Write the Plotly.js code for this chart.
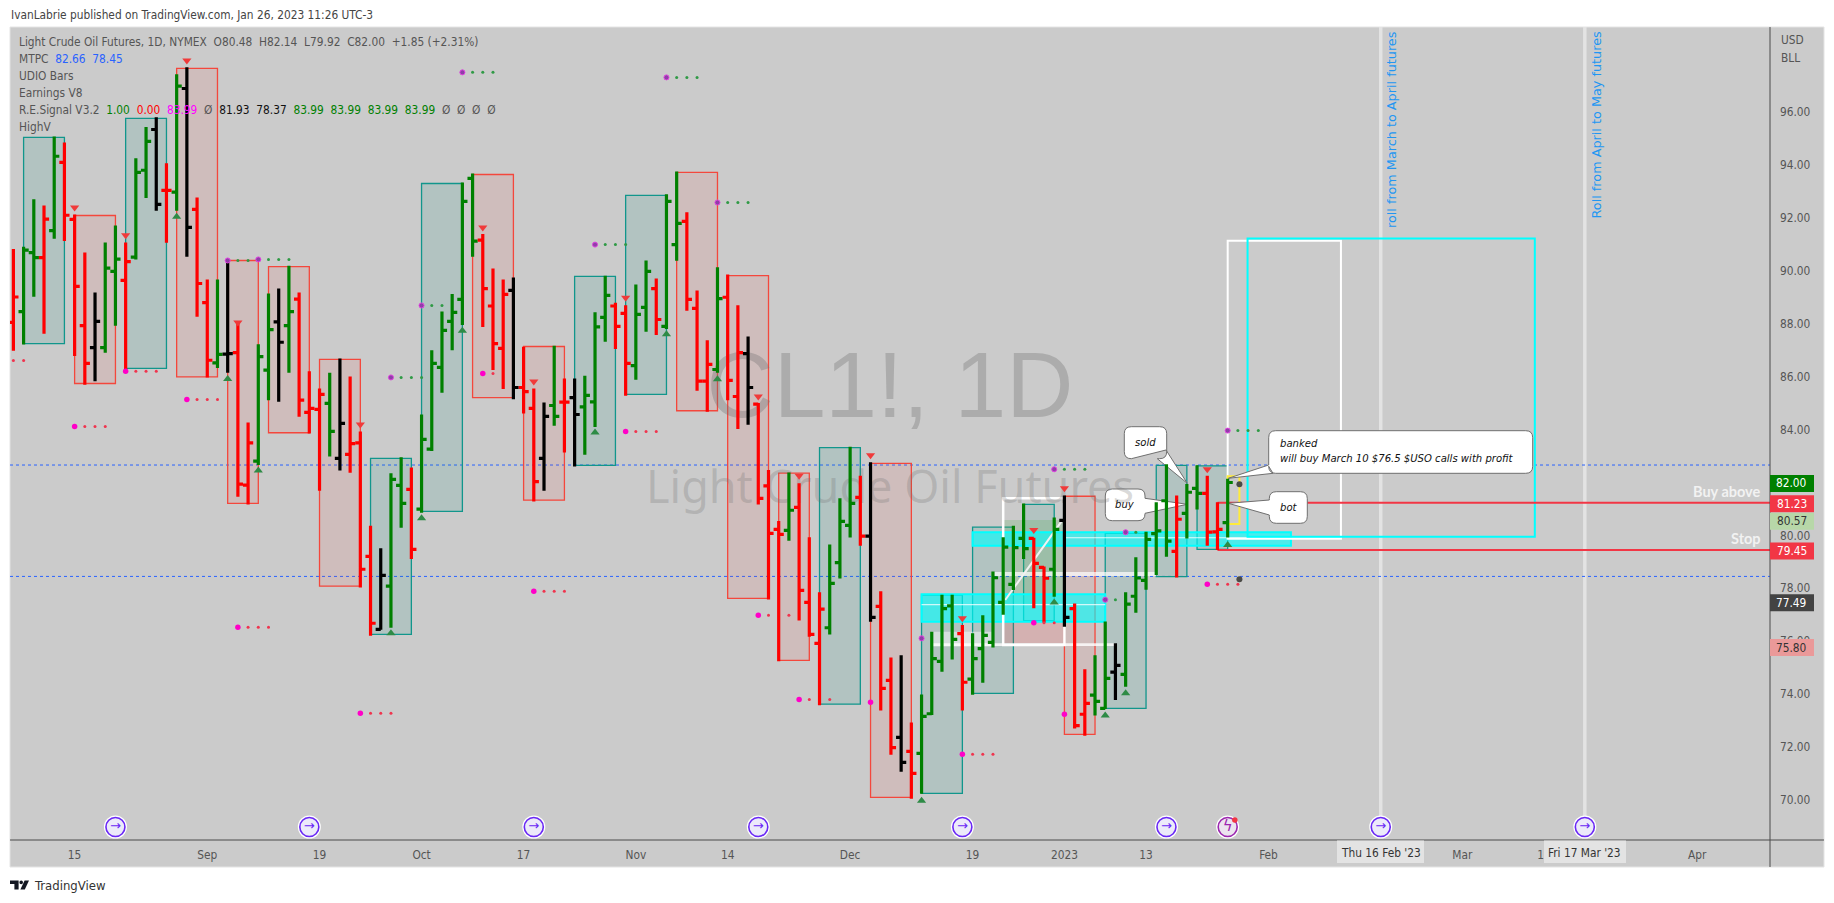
<!DOCTYPE html>
<html><head><meta charset="utf-8">
<script src="https://cdn.plot.ly/plotly-3.0.1.min.js"></script>
<style>html,body{margin:0;padding:0;background:#fff;overflow:hidden}#c{width:1834px;height:903px}</style>
</head><body><div id="c"></div>
<script>
// ---- bars (index 0 = 5 Aug 2022, trading days) ----
const barOpen=[88.05,88.46,90.69,90.50,91.52,94.10,91.94,87.93,87.10,87.10,89.98,89.64,90.52,93.80,95.34,93.04,92.97,96.89,92.32,88.80,86.52,86.85,86.91,81.90,82.81,86.25,88.07,87.93,88.93,84.65,84.76,84.99,82.91,83.06,83.50,79.21,76.45,78.08,81.89,81.74,80.99,83.26,86.35,88.09,88.92,93.49,91.16,88.67,87.07,89.26,85.59,84.80,82.91,84.91,85.04,85.21,84.86,85.05,88.24,88.67,88.39,86.42,88.62,89.33,87.90,90.99,91.87,88.58,85.83,86.27,89.00,85.25,86.87,84.96,81.87,80.23,80.19,81.06,77.47,75.92,76.51,78.97,80.38,81.44,79.97,77.32,74.52,72.37,71.84,71.76,73.26,75.24,77.34,76.29,74.57,75.72,75.96,77.47,78.15,79.89,79.89,78.79,78.72,80.57,77.23,73.24,73.96,73.46,74.83,74.75,77.70,78.30,80.07,81.31,79.40,80.83,81.78,81.59,80.13,80.48];
const barHigh=[90.82,90.91,92.70,92.47,95.08,94.85,92.13,90.69,89.18,91.07,91.71,91.07,94.25,95.43,95.80,94.06,97.43,97.69,92.77,89.67,89.67,90.43,88.05,84.27,87.22,89.14,89.33,90.19,89.18,86.20,85.55,86.15,86.69,86.01,83.93,80.36,79.51,82.35,82.95,82.57,84.57,87.00,88.46,89.12,93.34,93.68,91.39,90.09,89.67,89.75,87.13,85.55,85.02,87.17,85.93,85.93,86.03,88.43,89.81,88.79,88.70,89.48,90.39,89.71,92.89,93.75,92.21,89.26,87.38,90.13,89.86,88.70,87.52,85.00,82.47,80.54,82.38,81.97,79.93,77.85,79.66,81.40,83.35,82.25,82.76,77.89,75.39,75.47,72.93,73.99,76.36,77.76,77.76,76.61,76.30,76.98,78.64,79.93,80.36,81.21,79.91,78.82,80.68,81.51,77.43,74.94,75.47,76.75,75.92,77.85,79.17,80.14,81.25,82.69,81.51,81.94,82.65,82.25,81.25,82.14];
const barLow=[86.98,87.21,89.02,87.62,91.21,91.13,86.78,85.69,85.83,86.90,87.92,86.25,90.43,92.75,92.27,91.06,92.27,90.53,88.26,85.97,86.33,86.15,81.46,81.17,82.66,85.11,85.05,86.15,84.48,83.85,81.69,82.98,82.45,82.37,78.03,76.21,76.43,76.51,80.29,79.11,80.86,83.19,85.39,87.00,87.95,90.53,87.88,86.25,85.53,85.15,84.61,81.28,81.69,84.14,83.13,82.60,83.05,84.10,87.32,87.04,85.28,85.88,87.70,87.57,87.80,90.38,88.49,85.47,84.67,86.15,85.11,84.02,84.18,81.17,77.58,75.24,79.80,76.78,76.17,73.58,76.25,78.37,79.92,79.61,76.74,73.38,71.71,71.07,70.05,70.24,73.21,74.85,75.31,73.38,73.98,74.43,75.76,77.00,77.94,79.11,77.25,76.71,77.68,76.55,72.70,72.43,73.19,73.44,73.78,74.28,77.08,77.95,78.50,79.19,78.41,79.88,80.98,79.61,79.45,79.92];
const barClose=[89.01,90.78,90.50,91.95,94.33,92.10,89.41,86.50,88.09,90.10,90.44,90.35,93.72,94.89,92.51,93.04,96.98,91.64,89.52,86.62,86.84,86.87,81.94,83.50,86.76,87.78,87.30,88.46,85.11,84.80,85.33,83.93,84.23,83.47,78.72,76.68,78.49,82.12,81.21,79.47,83.63,86.50,87.75,88.43,92.62,91.12,89.33,87.25,89.11,85.59,85.43,82.03,84.50,84.50,85.04,84.57,85.29,87.88,89.07,87.90,86.50,88.35,89.98,88.16,92.62,91.79,88.92,85.83,86.46,88.95,85.86,86.91,85.59,81.40,80.08,80.04,80.95,77.92,76.26,77.21,78.19,80.53,81.21,79.97,76.90,74.22,71.98,71.42,71.01,73.16,75.34,77.23,76.07,74.45,75.34,76.22,78.40,79.56,79.54,79.50,78.94,78.38,80.23,76.90,72.81,73.65,73.73,74.60,75.09,77.40,78.39,79.85,80.17,79.78,80.61,81.63,81.59,80.12,80.23,82.00];
const barColor="RGGRGRRRKGGRGGKRGKRRGKRRGGKGRRRGKRRRKGGRGGGGGGRRRKRRKGRKGGGRRGGRGGRRRGRRKRRRGRRRGGGRKRRKRGGGGRGGGGGGRRGKRRGGKGGGGGRGGRRG";
// ---- x axis ----
const tickIdx=[6,19,30,40,50,61,70,82,94,103,111,123,142,150,165];
const tickText=["15","Sep","19","Oct","17","Nov","14","Dec","19","2023","13","Feb","Mar","13","Apr"];
const yTicks=[70,72,74,76,78,80,82,84,86,88,90,92,94,96];
// ---- signal boxes ----
const boxFrom=[1,6,11,16,21,25,30,35,40,45,50,55,60,65,70,75,79,84,89,94,99,103,107,112,116];
const boxTo=[5,10,15,20,24,29,34,39,44,49,54,59,64,69,74,78,83,88,93,98,102,106,111,115,119];
const boxTop=[95.04,92.09,95.76,97.65,90.39,90.16,86.65,82.91,93.30,93.64,87.14,89.79,92.85,93.72,89.82,82.35,83.32,82.72,77.74,80.31,81.17,81.48,80.08,82.65,82.63];
const boxBottom=[87.25,85.74,86.31,85.99,81.21,83.88,78.08,76.26,80.91,85.21,81.33,82.65,85.33,84.71,77.62,75.28,73.62,70.10,70.25,74.03,76.78,72.48,73.46,78.44,79.47];
const boxKind="TRTRRRRTTRRTTRRRTRTTTRTTT";
// ---- signal dots ----
const pinkHeadIdx=[6,11,17,22,34,51,46,60,73,77,84,93,100,103,117];
const pinkHeadPrice=[84.12,86.20,85.14,76.53,73.28,77.89,86.12,83.93,76.98,73.80,73.69,71.73,76.70,73.24,78.15];
const pinkTailIdx=[0,1,7,8,9,12,13,14,18,19,20,23,24,25,35,36,37,52,53,54,47,61,62,63,74,76,78,80,94,95,96,101,102,118,119,120];
const pinkTailPrice=[86.61,86.61,84.12,84.12,84.12,86.20,86.20,86.20,85.14,85.14,85.14,76.53,76.53,76.53,73.28,73.28,73.28,77.89,77.89,77.89,86.12,83.93,83.93,83.93,76.98,76.98,73.80,73.80,71.73,71.73,71.73,76.70,76.70,78.15,78.15,78.15];
const purpleHeadIdx=[44,21,24,40,37,57,64,69,89,102,109,107,119];
const purpleHeadPrice=[97.50,90.39,90.43,88.69,85.97,90.99,97.31,92.58,76.11,82.50,80.12,77.57,83.96];
const greenTailIdx=[45,46,47,22,23,25,26,27,41,42,38,39,40,58,59,60,65,66,67,70,71,72,103,104,105,110,108,120,121,122];
const greenTailPrice=[97.50,97.50,97.50,90.39,90.39,90.43,90.43,90.43,88.69,88.69,85.97,85.97,85.97,90.99,90.99,90.99,97.31,97.31,97.31,92.58,92.58,92.58,82.50,82.50,82.50,80.12,77.57,83.96,83.96,83.96];
const downIdx=[6,11,17,22,34,46,51,60,73,77,84,93,100,103,117];
const downPrice=[92.39,91.34,97.95,88.05,84.19,91.64,85.82,88.98,85.25,82.25,83.03,76.87,80.20,81.78,82.50];
const upIdx=[16,21,24,37,40,44,57,64,69,89,102,107,109,119];
const upPrice=[92.04,85.91,82.45,76.30,80.65,87.73,83.89,87.60,85.90,69.97,77.46,73.19,74.03,79.64];
const darkIdx=[120.15,120.15];
const darkPrice=[81.93,78.34];
const rollIconIdx=[10,29,51,73,93,113,134,154];
// ---- price tags ----
const tagPrice=[82.00,81.23,80.57,79.45,77.49,75.80];
const tagText=["82.00","81.23","80.57","79.45","77.49","75.80"];
const tagFill=["#008000","#f23645","#b7d7a8","#f23645","#434343","#ea9999"];
const tagInk=["#fff","#fff","#333","#fff","#fff","#333"];

const SCALE_X=10.204, X0=13.4, SCALE_Y=26.46;
const X=p=>(p-X0)/SCALE_X, Y=p=>70+(800-p)/SCALE_Y;
const PX=p=>(p-10)/1760, PY=p=>(840-p)/813;
const xr=[X(10),X(1770)], yr=[Y(840),Y(27)];
const UI='"DejaVu Sans Condensed",Lato,sans-serif', GREY='#555', FS=11.8;

const idx=barOpen.map((_,i)=>i);
function ohlc(letter,col){
  const k=idx.filter(i=>barColor[i]===letter);
  return {type:'ohlc',xaxis:'x2',yaxis:'y2',x:k,open:k.map(i=>barOpen[i]),high:k.map(i=>barHigh[i]),low:k.map(i=>barLow[i]),close:k.map(i=>barClose[i]),
    increasing:{line:{color:col,width:3.2}},decreasing:{line:{color:col,width:3.2}},tickwidth:0.5,hoverinfo:'skip',showlegend:false};
}
function pts(x,y,sym,size,col,line){
  return {type:'scatter',mode:'markers',xaxis:'x2',yaxis:'y2',x,y,hoverinfo:'skip',showlegend:false,
    marker:{symbol:sym,size,color:col,line:line||{width:0}}};
}
function wm(x,y,t,size,fam,col){
  return {type:'scatter',mode:'text',x:[x],y:[y],text:[t],textposition:'middle center',hoverinfo:'skip',showlegend:false,
    textfont:{size,family:fam,color:col}};
}
const iconPrice=Y(827);
const traces=[
  wm(X(890),Y(394),'CL1!, 1D',93,'"Liberation Sans"','rgba(110,110,110,0.33)'),
  wm(X(890),Y(492),'Light Crude Oil Futures',45,'"Noto Sans"','rgba(110,110,110,0.26)'),
  ohlc('G','#008000'),ohlc('R','#ff0000'),ohlc('K','#000000'),
  pts(pinkHeadIdx,pinkHeadPrice,'circle',5.5,'#ff00c8'),
  pts(pinkTailIdx,pinkTailPrice,'circle',3,'#f0344e'),
  pts(purpleHeadIdx,purpleHeadPrice,'circle',5,'#8f3fa8',{width:1,color:'#e040e0'}),
  pts(greenTailIdx,greenTailPrice,'circle',3,'#2f9a45'),
  pts(downIdx,downPrice,'triangle-down',8,'#f03a3a'),
  pts(upIdx,upPrice,'triangle-up',8,'#2e8b46'),
  pts(darkIdx,darkPrice,'circle',6,'#4a4a46'),
  pts(rollIconIdx,rollIconIdx.map(()=>iconPrice),'circle',23,'#ffffff'),
  pts(rollIconIdx,rollIconIdx.map(()=>iconPrice),'circle',19,'#eceafa',{width:1.6,color:'#6a28f5'}),
  {type:'scatter',mode:'text',xaxis:'x2',yaxis:'y2',x:rollIconIdx,y:rollIconIdx.map(()=>iconPrice),text:rollIconIdx.map(()=>'→'),textposition:'middle center',
    textfont:{size:13,color:'#6a28f5',family:'"DejaVu Sans"'},hoverinfo:'skip',showlegend:false},
  pts([119],[iconPrice],'circle',23,'#ffffff'),
  pts([119],[iconPrice],'circle',19,'#ece4ef',{width:1.6,color:'#9c27b0'}),
  {type:'scatter',mode:'text',xaxis:'x2',yaxis:'y2',x:[119],y:[iconPrice],text:['ϟ'],textposition:'middle center',
    textfont:{size:15,color:'#9c27b0',family:'"DejaVu Sans"'},hoverinfo:'skip',showlegend:false},
  pts([119.7],[Y(820)],'circle',5.5,'#f23645')
];

const shapes=[];
// grey panel
shapes.push({type:'rect',xref:'paper',yref:'paper',x0:0,x1:PX(1824),y0:PY(867),y1:1,layer:'below',fillcolor:'#cbcbcb',line:{color:'#e4e4e4',width:1}});
function rect(x0,x1,y0,y1,fill,col,w,layer){
  shapes.push({type:'rect',xref:'x',yref:'y',x0,x1,y0,y1,fillcolor:fill||'rgba(0,0,0,0)',line:{color:col||'rgba(0,0,0,0)',width:col?(w==null?1:w):0},layer:layer||'below'});
}
boxFrom.forEach((f,i)=>{
  if(boxKind[i]==='T') rect(f,boxTo[i],boxBottom[i],boxTop[i],'rgba(0,137,123,0.12)','#11968c',1.3);
  else rect(f,boxTo[i],boxBottom[i],boxTop[i],'rgba(244,67,54,0.10)','#f4473c',1.3);
});
// long-position tool
rect(97,103,77.43,80.58,'rgba(76,175,80,0.22)');
rect(97,103,75.92,76.74,'rgba(255,60,60,0.18)');
// white zones
rect(90,96,75.80,76.36,'rgba(255,255,255,0.45)');
rect(96,112,78.47,78.62,'rgba(255,255,255,0.7)');
rect(90,108,75.82,75.92,'rgba(255,255,255,0.8)');
// cyan bands
rect(89,107,76.74,77.78,'rgba(0,255,255,0.62)','#00ffff',2);
rect(94,125.2,79.61,80.12,'rgba(0,255,255,0.62)','#00ffff',2);
rect(89,107,77.36,77.41,'rgba(255,255,255,0.75)');
rect(103,130,79.89,79.93,'rgba(255,255,255,0.85)');
shapes.push({type:'line',xref:'x',yref:'y',x0:97.2,y0:77.56,x1:102.7,y1:80.52,line:{color:'#f2f2f2',width:2},layer:'below'});
rect(97,103,75.86,81.40,null,'#ffffff',2.5);
// projection boxes
rect(119,130.1,79.87,91.14,null,'#ffffff',2);
rect(120.95,149.1,79.95,91.22,null,'#00ffff',2);
// roll lines
[134,154].forEach(v=>shapes.push({type:'line',xref:'x',yref:'paper',x0:v,x1:v,y0:PY(817),y1:1,line:{color:'#e3e3e3',width:3.5},layer:'below'}));
// levels
[81.23,79.45].forEach(p=>shapes.push({type:'line',xref:'x',yref:'y',x0:118,x1:xr[1],y0:p,y1:p,line:{color:'#f23645',width:2},layer:'below'}));
shapes.push({type:'line',xref:'x',yref:'y',x0:118,x1:118,y0:79.45,y1:81.23,line:{color:'#f23645',width:2},layer:'below'});
// yellow trade bracket
rect(119,120.15,80.43,82.24,null,'#ffeb3b',2);
// callouts (box + tail)
function callout(l,t,r,b,tip,base1,base2,side){
  const R=7, xf=X, yf=Y;
  const p=(a,c)=>xf(a).toFixed(3)+','+yf(c).toFixed(3);
  let d='M'+p(l+R,t)+'L'+p(r-R,t)+'Q'+p(r,t)+' '+p(r,t+R);
  if(side==='right') d+='L'+p(base1[0],base1[1])+'L'+p(tip[0],tip[1])+'L'+p(base2[0],base2[1]);
  d+='L'+p(r,b-R)+'Q'+p(r,b)+' '+p(r-R,b);
  if(side==='bottom') d+='L'+p(base2[0],base2[1])+'L'+p(tip[0],tip[1])+'L'+p(base1[0],base1[1]);
  d+='L'+p(l+R,b)+'Q'+p(l,b)+' '+p(l,b-R);
  if(side==='left') d+='L'+p(base2[0],base2[1])+'L'+p(tip[0],tip[1])+'L'+p(base1[0],base1[1]);
  d+='L'+p(l,t+R)+'Q'+p(l,t)+' '+p(l+R,t)+'Z';
  shapes.push({type:'path',xref:'x',yref:'y',path:d,fillcolor:'#ffffff',line:{color:'#6f6f6f',width:1},layer:'below'});
}
callout(1124.3,426.7,1166.7,458.7,[1187.3,483.3],[1166,450],[1157.3,458.7],'bottom');
callout(1105.3,489,1145,520.7,[1187.3,504.3],[1145,498.3],[1145,513.3],'right');
callout(1269.3,491.7,1307.3,523.3,[1228.3,503.3],[1269.3,500],[1269.3,515],'left');
callout(1268.7,430.7,1532.7,473.3,[1228.3,478.3],[1268.7,465],[1273,473.3],'left');
// dotted MTPC levels
[82.66,78.45].forEach(p=>shapes.push({type:'line',xref:'paper',yref:'y',x0:0,x1:1,y0:p,y1:p,line:{color:'#2962ff',width:1,dash:'dot'},layer:'below'}));
// frame
shapes.push({type:'line',xref:'paper',yref:'paper',x0:1,x1:1,y0:PY(867),y1:1,line:{color:'#4a4a4a',width:1}});
shapes.push({type:'line',xref:'paper',yref:'paper',x0:0,x1:PX(1824),y0:0,y1:0,line:{color:'#4a4a4a',width:1}});
// crosshair date chips
[[1337,1424],[1544,1626]].forEach(a=>shapes.push({type:'rect',xref:'paper',yref:'paper',x0:PX(a[0]),x1:PX(a[1]),y0:PY(840.5),y1:PY(863),fillcolor:'#e3e3e3',line:{width:0},layer:'above'}));
// price tag backgrounds
tagPrice.forEach((p,i)=>{
  const cy=800-(p-70)*SCALE_Y+1;
  shapes.push({type:'rect',xref:'paper',yref:'paper',x0:1,x1:PX(1814),y0:PY(cy+8.5),y1:PY(cy-8.5),fillcolor:tagFill[i],line:{width:0},layer:'above'});
});
// logo
const lp=(a,c)=>PX(a).toFixed(5)+','+PY(c).toFixed(5);
shapes.push({type:'path',xref:'paper',yref:'paper',layer:'above',fillcolor:'#131722',line:{width:0},
 path:'M'+lp(10,880.5)+'L'+lp(18.6,880.5)+'L'+lp(18.6,889.5)+'L'+lp(14.4,889.5)+'L'+lp(14.4,884)+'L'+lp(10,884)+'Z'});
shapes.push({type:'path',xref:'paper',yref:'paper',layer:'above',fillcolor:'#131722',line:{width:0},
 path:'M'+lp(24.6,880.5)+'L'+lp(29,880.5)+'L'+lp(24.8,889.5)+'L'+lp(20.4,889.5)+'Z'});
shapes.push({type:'circle',xref:'paper',yref:'paper',layer:'above',fillcolor:'#131722',line:{width:0},x0:PX(19.4),x1:PX(23),y0:PY(884.2),y1:PY(880.6)});

const ann=[];
function txt(px,py,t,opts){
  ann.push(Object.assign({xref:'paper',yref:'paper',x:PX(px),y:PY(py),text:t,showarrow:false,xanchor:'left',yanchor:'middle',borderpad:0,
    font:{family:UI,size:FS,color:GREY}},opts||{}));
}
txt(10,14.5,'IvanLabrie published on TradingView.com, Jan 26, 2023 11:26 UTC-3',{font:{family:UI,size:FS,color:'#444'}});
const sp=(c,t)=>'<span style="color:'+c+'">'+t+'</span>';
txt(18,41.7,'Light Crude Oil Futures, 1D, NYMEX  O80.48  H82.14  L79.92  C82.00  +1.85 (+2.31%)');
txt(18,58.7,'MTPC  '+sp('#2962ff','82.66  78.45'));
txt(18,75.7,'UDIO Bars');
txt(18,92.7,'Earnings V8');
txt(18,109.7,'R.E.Signal V3.2  '+sp('#008000','1.00')+'  '+sp('#ff0000','0.00')+'  '+sp('#ff00ff','83.99')+'  Ø  '+sp('#111','81.93  78.37')+'  '+sp('#008000','83.99  83.99  83.99  83.99')+'  Ø  Ø  Ø  Ø');
txt(18,126.7,'HighV');
txt(33,885.5,'TradingView',{font:{family:UI,size:13,color:'#333'}});
txt(1780,40,'USD');
txt(1780,58,'BLL');
// white labels
txt(1761.5,491,'<b>Buy above</b>',{xanchor:'right',font:{family:'Lato,sans-serif',size:14.5,color:'#f2f2f2'}});
txt(1761.5,538,'<b>Stop</b>',{xanchor:'right',font:{family:'Lato,sans-serif',size:14.5,color:'#f2f2f2'}});
// roll labels
[[1391.5,129.5,'roll from March to April futures'],[1596,124.5,'Roll from April to May futures']].forEach(a=>
  txt(a[0],a[1],a[2],{xanchor:'center',textangle:-90,font:{family:'"DejaVu Sans"',size:12.8,color:'#2196f3'}}));
// callout text
const CI={family:'"DejaVu Sans Condensed",Lato,sans-serif',size:11.2,color:'#111'};
txt(1145.5,442,'<i>sold</i>',{xanchor:'center',font:CI});
txt(1125,504.5,'<i>buy</i>',{xanchor:'center',font:CI});
txt(1288.5,507,'<i>bot</i>',{xanchor:'center',font:CI});
txt(1279,451,'<i>banked<br>will buy March 10 $76.5 $USO calls with profit</i>',{align:'left',font:CI});
// date chips
txt(1380.5,853,"Thu 16 Feb '23",{xanchor:'center',font:{family:UI,size:FS,color:'#333'}});
txt(1584.7,853,"Fri 17 Mar '23",{xanchor:'center',font:{family:UI,size:FS,color:'#333'}});
// tags text
tagPrice.forEach((p,i)=>{
  const cy=800-(p-70)*SCALE_Y+1;
  txt(1791.8,cy,tagText[i],{xanchor:'center',font:{family:UI,size:FS,color:tagInk[i]}});
});

Plotly.newPlot('c',traces,{
  width:1834,height:903,showlegend:false,hovermode:false,dragmode:false,
  paper_bgcolor:'#ffffff',plot_bgcolor:'#cbcbcb',
  margin:{l:10,r:64,t:27,b:63,pad:0},
  xaxis:{range:xr,fixedrange:true,showgrid:false,zeroline:false,showline:false,tickmode:'array',tickvals:tickIdx,ticktext:tickText,ticks:'',ticklabelstandoff:6,tickfont:{family:UI,size:FS,color:GREY},domain:[0,1],rangeslider:{visible:false}},
  yaxis:{range:yr,fixedrange:true,side:'right',showgrid:false,zeroline:false,showline:false,tickmode:'array',tickvals:yTicks,ticktext:yTicks.map(v=>v.toFixed(2)),ticks:'',ticklabelstandoff:9,tickfont:{family:UI,size:FS,color:GREY},domain:[0,1]},
  xaxis2:{range:xr,overlaying:'x',anchor:'y2',side:'bottom',showticklabels:false,ticks:'',showgrid:false,zeroline:false,showline:false,fixedrange:true,rangeslider:{visible:false}},
  yaxis2:{range:yr,overlaying:'y',anchor:'x2',side:'right',showticklabels:false,ticks:'',showgrid:false,zeroline:false,showline:false,fixedrange:true},
  shapes,annotations:ann
},{staticPlot:true,displayModeBar:false});
</script></body></html>
